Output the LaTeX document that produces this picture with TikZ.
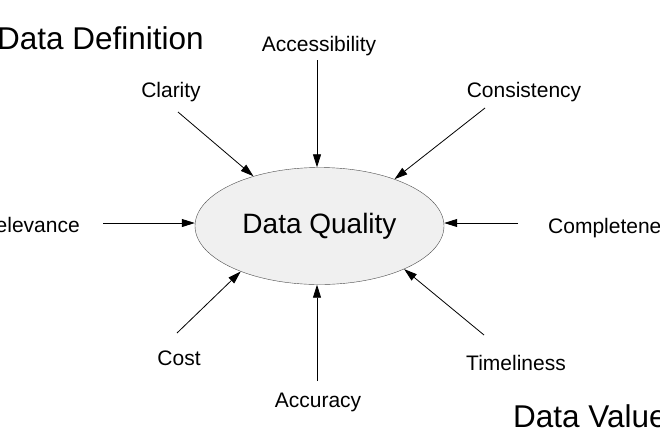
\documentclass[tikz,border=0pt]{standalone}
\usepackage{fontspec}
\setmainfont{Liberation Sans}
\usetikzlibrary{arrows.meta,positioning,shapes.geometric}

\begin{document}
\begin{tikzpicture}[
      x=1pt, y=-1pt,
      lbl/.style={inner sep=0pt, anchor=base, font=\fontsize{21}{24}\selectfont},
      ttl/.style={inner sep=0pt, anchor=base west, font=\fontsize{31.5}{36}\selectfont},
      arr/.style={-{Triangle[length=13pt,width=8pt]}, line width=0.8pt, draw=black}
    ]
      \fill[white] (0,0) rectangle (660,440);
      \useasboundingbox (0,0) rectangle (660,440);
      % centre
      \node[ellipse, draw=black!70, fill=black!6, minimum width=249pt, minimum height=117pt, inner sep=0pt,
            font=\fontsize{28}{32}\selectfont] (dq) at (319.5,226) {Data Quality};
      % headings
      \node[ttl] (def) at (-3,49) {Data Definition};
      \node[ttl] (val) at (513,427) {Data Value};
      % attributes
      \node[lbl] (acc) at (319,51) {Accessibility};
      \node[lbl] (cla) at (171,97) {Clarity};
      \node[lbl] (con) at (524,97) {Consistency};
      \node[lbl, anchor=base east] (rel) at (80,232) {Relevance};
      \node[lbl, anchor=base west] (com) at (548,233) {Completeness};
      \node[lbl] (cos) at (179,365) {Cost};
      \node[lbl] (acu) at (318,407) {Accuracy};
      \node[lbl] (tim) at (516,370) {Timeliness};
      % arrow tails
      \coordinate (accT) at (317,60);
      \coordinate (claT) at (178,112);
      \coordinate (conT) at (485,108);
      \coordinate (relT) at (103,223);
      \coordinate (comT) at (518,223);
      \coordinate (cosT) at (177,333);
      \coordinate (acuT) at (317,381);
      \coordinate (timT) at (484,335);
      \draw[arr] (accT) -- (accT |- dq.north);
      \draw[arr] (claT) -- (dq.143);
      \draw[arr] (conT) -- (dq.32);
      \draw[arr] (relT) -- (relT -| dq.west);
      \draw[arr] (comT) -- (comT -| dq.east);
      \draw[arr] (cosT) -- (dq.210);
      \draw[arr] (acuT) -- (acuT |- dq.south);
      \draw[arr] (timT) -- (dq.333);
    \end{tikzpicture}
\end{document}
